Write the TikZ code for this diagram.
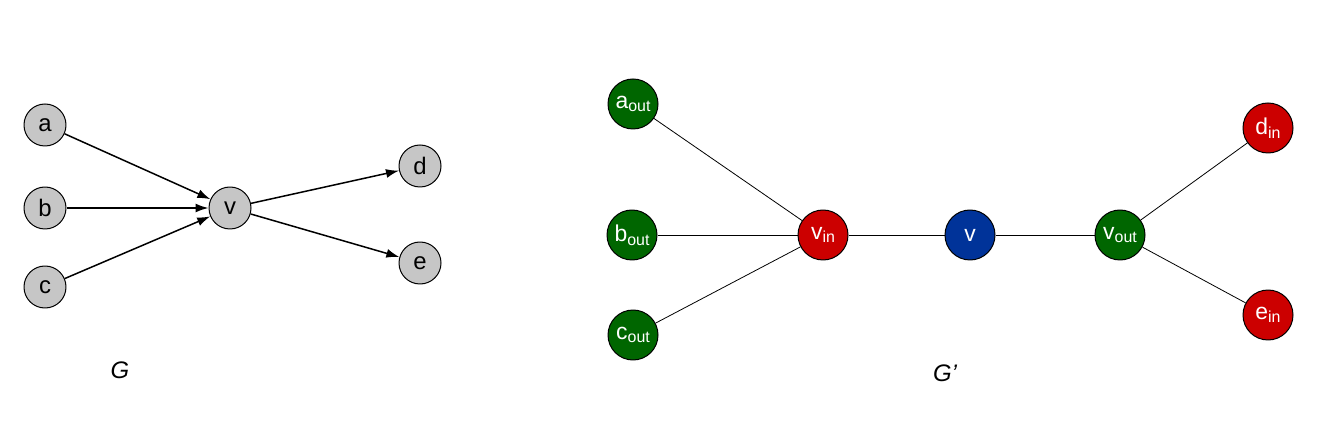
\documentclass[tikz,border=0pt]{standalone}
\usepackage{fontspec}
\setmainfont{Liberation Sans}
\usetikzlibrary{arrows.meta}
\newcommand{\sublbl}[1]{\raisebox{-0.3ex}{\fontsize{16}{18}\selectfont #1}}
\begin{document}
\begin{tikzpicture}[>={Latex[length=13bp,width=9bp]},line join=bevel,x=1bp,y=-1bp,
  gnode/.style={circle,draw=black,line width=1bp,fill=gray!45,minimum size=42bp,inner sep=0pt,font=\fontsize{24}{26}\selectfont},
  hnode/.style={circle,draw=black,line width=1bp,minimum size=50bp,inner sep=0pt,text=white,font=\fontsize{23}{26}\selectfont},
  outnode/.style={hnode,fill=outgreen},
  innode/.style={hnode,fill=inred},
  midnode/.style={hnode,fill=midblue},
  arc/.style={->,line width=1.5bp},
  link/.style={line width=0.8bp}]
  \definecolor{outgreen}{rgb}{0.0,0.4,0.0}
  \definecolor{inred}{rgb}{0.8,0.0,0.0}
  \definecolor{midblue}{rgb}{0.0,0.2,0.6}
  \useasboundingbox (0,0) rectangle (1331,434);
%%
  % Node: a
  \node[gnode] (a) at (45,125) {a};
  % Node: b
  \node[gnode] (b) at (45,208) {b};
  % Node: c
  \node[gnode] (c) at (45,287) {c};
  % Node: v
  \node[gnode] (v) at (230,208) {v};
  % Node: d
  \node[gnode] (d) at (420,166) {d};
  % Node: e
  \node[gnode] (e) at (420,263) {e};
  \node[font=\fontsize{24}{26}\selectfont\itshape] (G) at (120,370) {G};
  % Edge: a -> v, b -> v, c -> v
  \draw [arc] (a) -- (v);
  \draw [arc] (b) -- (v);
  \draw [arc] (c) -- (v);
  % Edge: v -> d, v -> e
  \draw [arc] (v) -- (d);
  \draw [arc] (v) -- (e);
%%
  % Node: a_out
  \node[outnode] (aout) at (633,104) {a\sublbl{out}};
  % Node: b_out
  \node[outnode] (bout) at (632,235) {b\sublbl{out}};
  % Node: c_out
  \node[outnode] (cout) at (633,335) {c\sublbl{out}};
  % Node: v_in
  \node[innode] (vin) at (823,235) {v\sublbl{in}};
  % Node: v
  \node[midnode] (vmid) at (970,235) {v};
  % Node: v_out
  \node[outnode] (vout) at (1120,235) {v\sublbl{out}};
  % Node: d_in
  \node[innode] (din) at (1268,128) {d\sublbl{in}};
  % Node: e_in
  \node[innode] (ein) at (1268,315) {e\sublbl{in}};
  \node[font=\fontsize{24}{26}\selectfont\itshape] (Gp) at (945,373) {G'};
  % Edge: x_out -- v_in
  \draw [link] (aout) -- (vin);
  \draw [link] (bout) -- (vin);
  \draw [link] (cout) -- (vin);
  % Edge: v_in -- v -- v_out
  \draw [link] (vin) -- (vmid);
  \draw [link] (vmid) -- (vout);
  % Edge: v_out -- x_in
  \draw [link] (vout) -- (din);
  \draw [link] (vout) -- (ein);
%
\end{tikzpicture}
\end{document}
